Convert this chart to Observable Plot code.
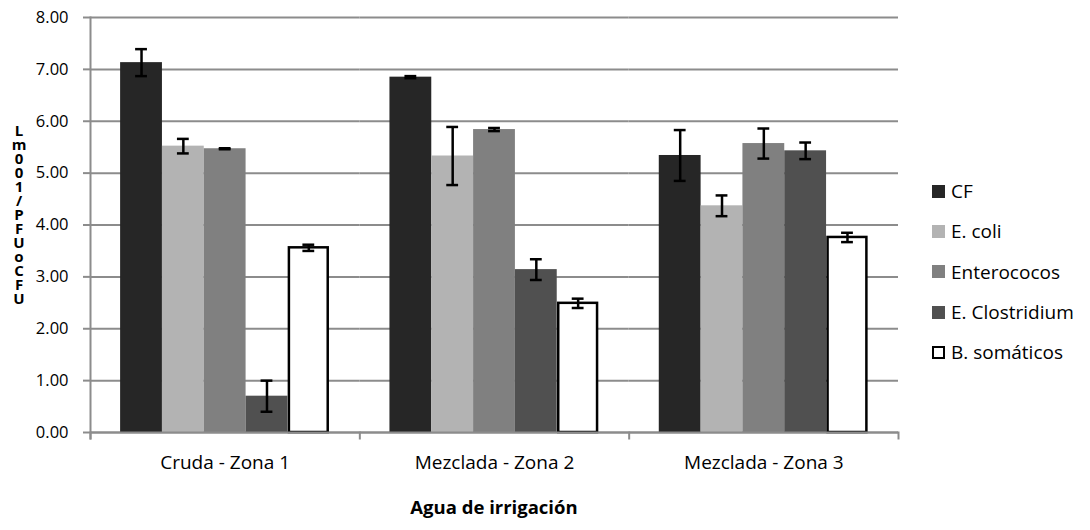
<!DOCTYPE html>
<html>
<head>
<meta charset="utf-8">
<script src="https://cdn.jsdelivr.net/npm/d3@7"></script>
<script src="https://cdn.jsdelivr.net/npm/@observablehq/plot@0.6"></script>
<style>
  html, body { margin: 0; padding: 0; background: #fff; }
  #wrap { position: relative; width: 1090px; height: 530px; font-family: "Open Sans", sans-serif; color: #000; }
  #ylab { position: absolute; left: 10px; top: 123px; width: 18px; text-align: center; font-weight: bold; font-size: 15px; line-height: 14px; }
  #xtitle { position: absolute; left: 90px; width: 808px; top: 494px; text-align: center; font-weight: bold; font-size: 18.5px; }
  #legend { position: absolute; left: 932px; top: 171px; font-size: 19px; }
  .item { height: 40.3px; display: flex; align-items: center; white-space: pre; }
  .sw { width: 13px; height: 13px; margin-right: 6px; box-sizing: border-box; flex: none; }
</style>
</head>
<body>
<div id="wrap">
  <div id="chart"></div>
  <div id="ylab"></div>
  <div id="xtitle"></div>
  <div id="legend"></div>
</div>
<script>
const categories = ["Cruda - Zona 1", "Mezclada - Zona 2", "Mezclada - Zona 3"];
const series = ["CF", "E. coli", "Enterococos", "E. Clostridium", "B. somáticos"];
const legendLabels = ["CF", "E. coli", "Enterococos", "E. Clostridium", "B. somáticos"];
const colors = ["#262626", "#b3b3b3", "#808080", "#505050", "#ffffff"];

const cfValues = [7.13, 6.85, 5.34];
const ecoliValues = [5.52, 5.33, 4.37];
const enteroValues = [5.47, 5.84, 5.57];
const clostValues = [0.70, 3.14, 5.43];
const somaticValues = [3.56, 2.49, 3.76];

const cfErr = [0.26, 0.02, 0.49];
const ecoliErr = [0.14, 0.56, 0.20];
const enteroErr = [0.01, 0.03, 0.29];
const clostErr = [0.30, 0.20, 0.16];
const somaticErr = [0.06, 0.09, 0.09];

const yTicks = [0, 1, 2, 3, 4, 5, 6, 7, 8];
const yLabel = "UFC o UFP/100mL";
const xTitle = "Agua de irrigación";

const valueSets = [cfValues, ecoliValues, enteroValues, clostValues, somaticValues];
const errSets = [cfErr, ecoliErr, enteroErr, clostErr, somaticErr];
const data = [];
categories.forEach((c, i) => {
  series.forEach((s, j) => {
    data.push({cat: c, series: s, value: valueSets[j][i], err: errSets[j][i]});
  });
});

const gray = "#8c8c8c";
const plotH = 530 - 17 - 98;

const chart = Plot.plot({
  width: 1090,
  height: 530,
  marginLeft: 90,
  marginRight: 192,
  marginTop: 17,
  marginBottom: 98,
  style: {fontFamily: "Open Sans, sans-serif", fontSize: "16px", color: "#000", background: "#fff"},
  fx: {domain: categories, padding: 0, label: null, round: false},
  x: {domain: series, paddingInner: 0, paddingOuter: 0.72, axis: null, round: false},
  y: {domain: [0, 8], axis: null},
  color: {domain: series, range: colors},
  marks: [
    Plot.gridY({ticks: yTicks, stroke: gray, strokeOpacity: 1, strokeWidth: 2}),
    Plot.barY(data.filter(d => d.series !== "B. somáticos"), {fx: "cat", x: "series", y: "value", fill: "series"}),
    Plot.barY(data.filter(d => d.series === "B. somáticos"), {fx: "cat", x: "series", y: "value", fill: "#fff", stroke: "#000", strokeWidth: 2.5, insetLeft: 1.5, insetRight: 1.5}),
    Plot.ruleY([0], {stroke: gray, strokeWidth: 2}),
    Plot.frame({anchor: "left", facetAnchor: "left", insetBottom: -6, stroke: gray, strokeWidth: 2}),
    Plot.frame({anchor: "left", insetTop: plotH, insetBottom: -6, stroke: gray, strokeWidth: 2}),
    Plot.frame({anchor: "right", facetAnchor: "right", insetTop: plotH, insetBottom: -6, stroke: gray, strokeWidth: 2}),
    Plot.ruleX(data, {fx: "cat", x: "series", y1: d => d.value - d.err, y2: d => d.value + d.err, stroke: "#000", strokeWidth: 2.5}),
    Plot.tickY(data, {fx: "cat", x: "series", y: d => d.value - d.err, stroke: "#000", strokeWidth: 2.5, insetLeft: 15, insetRight: 15}),
    Plot.tickY(data, {fx: "cat", x: "series", y: d => d.value + d.err, stroke: "#000", strokeWidth: 2.5, insetLeft: 15, insetRight: 15}),
    Plot.axisY({ticks: yTicks, tickFormat: d3.format(".2f"), tickSize: 7, tickPadding: 15, stroke: gray, strokeWidth: 2, fill: "#000", fontSize: 16.5, label: null}),
    Plot.axisFx({anchor: "bottom", tickSize: 0, tickPadding: 23, fontSize: 19, label: null})
  ]
});
document.getElementById("chart").appendChild(chart);

document.getElementById("ylab").innerHTML = yLabel.replace(/ /g, "").split("").reverse().map(ch => `<div>${ch}</div>`).join("");
document.getElementById("xtitle").textContent = xTitle;
document.getElementById("legend").innerHTML = series.map((s, i) =>
  `<div class="item"><span class="sw" style="background:${colors[i]};${s === "B. somáticos" ? "border:2.5px solid #000;" : ""}"></span>${legendLabels[i]}</div>`
).join("");
</script>
</body>
</html>
